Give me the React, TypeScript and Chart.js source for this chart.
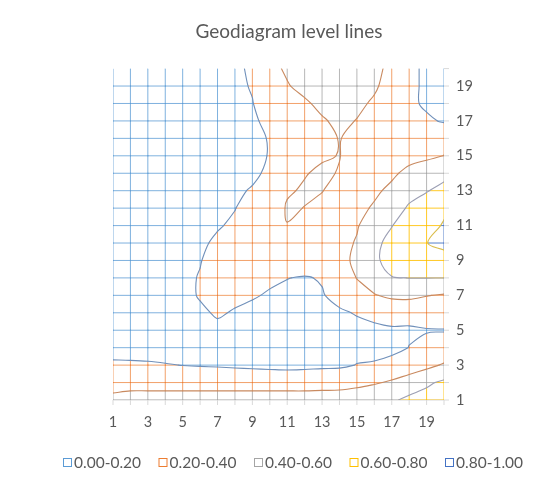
import React, { useEffect, useRef } from "react";
import { Chart, registerables } from "chart.js";

Chart.register(...registerables);

// ---------------- data ----------------
const chartTitle = "Geodiagram level lines";
const categories = [1, 2, 3, 4, 5, 6, 7, 8, 9, 10, 11, 12, 13, 14, 15, 16, 17, 18, 19, 20];
const seriesNames = [1, 2, 3, 4, 5, 6, 7, 8, 9, 10, 11, 12, 13, 14, 15, 16, 17, 18, 19, 20];
const xTickLabels = [1, 3, 5, 7, 9, 11, 13, 15, 17, 19];
const yTickLabels = [1, 3, 5, 7, 9, 11, 13, 15, 17, 19];
const levels = [0.2, 0.4, 0.6, 0.8];
const bandLabels = ["0.00-0.20", "0.20-0.40", "0.40-0.60", "0.60-0.80", "0.80-1.00"];
const bandColors = ["#5B9BD5", "#ED7D31", "#A5A5A5", "#FFC000", "#4472C4"];
const gridLineColors = [
  "rgba(91,155,213,0.78)",
  "rgba(237,125,49,0.72)",
  "rgba(165,165,165,0.8)",
  "rgba(255,192,0,0.85)",
  "rgba(68,114,196,0.9)",
];
const levelLineColors = ["#7090BA", "#C98A60", "#9C9FB4", "#DABD4C"];

// surface values: one array per series (y = 1 .. 20), values for categories x = 1 .. 20
const row01 = [0.45, 0.46, 0.46, 0.46, 0.46, 0.46, 0.46, 0.46, 0.46, 0.46, 0.46, 0.46, 0.47, 0.48, 0.5, 0.54, 0.58, 0.63, 0.67, 0.7];
const row02 = [0.325, 0.345, 0.345, 0.345, 0.345, 0.345, 0.345, 0.345, 0.345, 0.345, 0.345, 0.345, 0.343, 0.34, 0.357, 0.383, 0.42, 0.52, 0.57, 0.632];
const row03 = [0.23, 0.23, 0.225, 0.21, 0.197, 0.189, 0.182, 0.172, 0.161, 0.152, 0.144, 0.152, 0.164, 0.171, 0.205, 0.225, 0.287, 0.26, 0.349, 0.421];
const row04 = [0.13, 0.12, 0.11, 0.12, 0.15, 0.15, 0.15, 0.14, 0.13, 0.12, 0.12, 0.12, 0.13, 0.14, 0.15, 0.12, 0.129, 0.205, 0.249, 0.245];
const row05 = [0.1, 0.1, 0.1, 0.11, 0.13, 0.15, 0.16, 0.15, 0.13, 0.11, 0.1, 0.1, 0.11, 0.13, 0.16, 0.17, 0.18, 0.17, 0.19, 0.195];
const row06 = [0.1, 0.1, 0.1, 0.11, 0.13, 0.17, 0.22, 0.185, 0.15, 0.13, 0.12, 0.12, 0.14, 0.18, 0.21, 0.24, 0.27, 0.29, 0.29, 0.27];
const row07 = [0.1, 0.1, 0.11, 0.13, 0.15, 0.214, 0.25, 0.24, 0.218, 0.18, 0.17, 0.17, 0.19, 0.247, 0.33, 0.39, 0.433, 0.433, 0.406, 0.385];
const row08 = [0.1, 0.1, 0.11, 0.13, 0.15, 0.213, 0.26, 0.27, 0.25, 0.234, 0.203, 0.19, 0.21, 0.3, 0.405, 0.49, 0.59, 0.602, 0.602, 0.602];
const row09 = [0.1, 0.1, 0.11, 0.13, 0.15, 0.19, 0.29, 0.31, 0.31, 0.3, 0.29, 0.29, 0.3, 0.34, 0.44, 0.55, 0.7, 0.72, 0.74, 0.76];
const row10 = [0.1, 0.1, 0.1, 0.12, 0.14, 0.17, 0.23, 0.28, 0.31, 0.32, 0.33, 0.32, 0.32, 0.36, 0.41, 0.56, 0.65, 0.72, 0.798, 0.827];
const row11 = [0.1, 0.1, 0.1, 0.11, 0.13, 0.16, 0.185, 0.228, 0.28, 0.35, 0.395, 0.37, 0.35, 0.35, 0.39, 0.47, 0.595, 0.68, 0.76, 0.81];
const row12 = [0.08, 0.08, 0.09, 0.1, 0.11, 0.13, 0.16, 0.195, 0.28, 0.266, 0.42, 0.397, 0.36, 0.33, 0.37, 0.413, 0.54, 0.616, 0.68, 0.779];
const row13 = [0.07, 0.07, 0.08, 0.09, 0.1, 0.12, 0.15, 0.17, 0.215, 0.3, 0.38, 0.42, 0.405, 0.34, 0.34, 0.38, 0.425, 0.557, 0.591, 0.651];
const row14 = [0.06, 0.06, 0.07, 0.08, 0.09, 0.11, 0.13, 0.15, 0.165, 0.235, 0.33, 0.39, 0.43, 0.39, 0.35, 0.36, 0.38, 0.43, 0.49, 0.549];
const row15 = [0.05, 0.05, 0.06, 0.07, 0.08, 0.1, 0.12, 0.15, 0.175, 0.205, 0.28, 0.33, 0.38, 0.405, 0.32, 0.33, 0.33, 0.363, 0.37, 0.402];
const row16 = [0.05, 0.05, 0.06, 0.07, 0.08, 0.1, 0.12, 0.15, 0.18, 0.205, 0.27, 0.32, 0.36, 0.405, 0.36, 0.33, 0.31, 0.3, 0.3, 0.36];
const row17 = [0.05, 0.05, 0.06, 0.07, 0.08, 0.1, 0.13, 0.16, 0.185, 0.225, 0.29, 0.34, 0.385, 0.43, 0.395, 0.34, 0.3, 0.27, 0.23, 0.182];
const row18 = [0.05, 0.05, 0.06, 0.07, 0.08, 0.1, 0.13, 0.16, 0.195, 0.28, 0.33, 0.38, 0.435, 0.46, 0.43, 0.38, 0.33, 0.24, 0.17, 0.12];
const row19 = [0.05, 0.05, 0.06, 0.07, 0.08, 0.1, 0.13, 0.17, 0.21, 0.3, 0.39, 0.44, 0.49, 0.5, 0.48, 0.42, 0.34, 0.24, 0.17, 0.12];
const row20 = [0.05, 0.05, 0.06, 0.07, 0.08, 0.1, 0.13, 0.17, 0.225, 0.36, 0.42, 0.47, 0.5, 0.5, 0.48, 0.44, 0.36, 0.24, 0.17, 0.12];

const surface = [row01, row02, row03, row04, row05, row06, row07, row08, row09, row10,
  row11, row12, row13, row14, row15, row16, row17, row18, row19, row20];

const FONT = "Lato, 'Open Sans', 'DejaVu Sans', sans-serif";
const TEXT_COLOR = "#595959";

// ---------------- geometry from data ----------------
type Pt = { x: number; y: number };
const gap = (): Pt => ({ x: NaN, y: NaN });
const bandOf = (v: number) => levels.filter((L) => v >= L).length;

function splitSegment(out: Pt[][], x0: number, y0: number, x1: number, y1: number, a: number, b: number) {
  const ts = [0, 1];
  levels.forEach((L) => {
    if ((a >= L) !== (b >= L)) ts.push((L - a) / (b - a));
  });
  ts.sort((p, q) => p - q);
  for (let k = 0; k < ts.length - 1; k++) {
    const t0 = ts[k];
    const t1 = ts[k + 1];
    if (t1 - t0 < 1e-9) continue;
    const v = a + ((b - a) * (t0 + t1)) / 2;
    out[bandOf(v)].push(
      { x: x0 + (x1 - x0) * t0, y: y0 + (y1 - y0) * t0 },
      { x: x0 + (x1 - x0) * t1, y: y0 + (y1 - y0) * t1 },
      gap()
    );
  }
}

function buildGrid(): Pt[][] {
  const out: Pt[][] = bandColors.map(() => []);
  const nR = seriesNames.length;
  const nC = categories.length;
  // horizontal lines (the top series row shows no line in the reference)
  for (let j = 0; j < nR - 1; j++) {
    for (let i = 0; i < nC - 1; i++) {
      splitSegment(out, categories[i], seriesNames[j], categories[i + 1], seriesNames[j], surface[j][i], surface[j][i + 1]);
    }
  }
  // vertical lines
  for (let i = 0; i < nC; i++) {
    for (let j = 0; j < nR - 1; j++) {
      splitSegment(out, categories[i], seriesNames[j], categories[i], seriesNames[j + 1], surface[j][i], surface[j + 1][i]);
    }
  }
  return out;
}

function contourSegments(L: number): [Pt, Pt][] {
  const segs: [Pt, Pt][] = [];
  const up = (v: number) => v >= L;
  const cross = (xa: number, ya: number, za: number, xb: number, yb: number, zb: number): Pt | null => {
    if (up(za) === up(zb)) return null;
    const t = (L - za) / (zb - za);
    return { x: xa + (xb - xa) * t, y: ya + (yb - ya) * t };
  };
  for (let j = 0; j < seriesNames.length - 1; j++) {
    for (let i = 0; i < categories.length - 1; i++) {
      const x0 = categories[i], x1 = categories[i + 1];
      const y0 = seriesNames[j], y1 = seriesNames[j + 1];
      const z00 = surface[j][i], z10 = surface[j][i + 1];
      const z01 = surface[j + 1][i], z11 = surface[j + 1][i + 1];
      const bottom = cross(x0, y0, z00, x1, y0, z10);
      const right = cross(x1, y0, z10, x1, y1, z11);
      const top = cross(x0, y1, z01, x1, y1, z11);
      const left = cross(x0, y0, z00, x0, y1, z01);
      const hits = [bottom, right, top, left].filter((p) => p !== null) as Pt[];
      if (hits.length === 2) {
        segs.push([hits[0], hits[1]]);
      } else if (hits.length === 4) {
        const c = (z00 + z10 + z01 + z11) / 4;
        if (up(z00) !== up(c)) {
          segs.push([bottom!, left!], [right!, top!]);
        } else {
          segs.push([bottom!, right!], [top!, left!]);
        }
      }
    }
  }
  return segs;
}

// join the cell segments of one level into continuous polylines
function chainSegments(segs: [Pt, Pt][]): Pt[] {
  const key = (p: Pt) => `${Math.round(p.x * 1e6)},${Math.round(p.y * 1e6)}`;
  const map = new Map<string, number[]>();
  segs.forEach((s, idx) => {
    s.forEach((p) => {
      const k = key(p);
      if (!map.has(k)) map.set(k, []);
      map.get(k)!.push(idx);
    });
  });
  const used = segs.map(() => false);
  const out: Pt[] = [];
  const walk = (startIdx: number, startPt: Pt) => {
    const chain: Pt[] = [{ ...startPt }];
    let idx = startIdx;
    let cur = startPt;
    while (idx >= 0 && !used[idx]) {
      used[idx] = true;
      const s = segs[idx];
      const next = key(s[0]) === key(cur) ? s[1] : s[0];
      chain.push({ ...next });
      cur = next;
      const cand = (map.get(key(cur)) || []).filter((j) => !used[j]);
      idx = cand.length ? cand[0] : -1;
    }
    out.push(...chain, gap());
  };
  segs.forEach((s, idx) => {
    if (used[idx]) return;
    for (const p of s) {
      if ((map.get(key(p)) || []).length === 1) {
        walk(idx, p);
        return;
      }
    }
  });
  segs.forEach((s, idx) => {
    if (!used[idx]) walk(idx, s[0]);
  });
  return out;
}

// ---------------- decorations (axis ticks, title, legend) ----------------
const decorPlugin = {
  id: "decor",
  beforeDatasetsDraw(chart: any) {
    const { ctx } = chart;
    const xs = chart.scales.x;
    const ys = chart.scales.y;
    const yb = ys.getPixelForValue(seriesNames[0]);
    const xl = xs.getPixelForValue(categories[0]);
    const xr = xs.getPixelForValue(categories[categories.length - 1]);
    ctx.save();
    ctx.strokeStyle = "#D9D9D9";
    ctx.lineWidth = 1;
    ctx.beginPath();
    ctx.moveTo(xl, yb);
    ctx.lineTo(xr, yb);
    categories.forEach((c) => {
      const px = xs.getPixelForValue(c);
      ctx.moveTo(px, yb);
      ctx.lineTo(px, yb + 5);
    });
    seriesNames.forEach((s) => {
      const py = ys.getPixelForValue(s);
      ctx.moveTo(xr, py);
      ctx.lineTo(xr + 5, py);
    });
    ctx.stroke();
    ctx.restore();
  },
  afterDraw(chart: any) {
    const { ctx } = chart;
    ctx.save();
    // title
    ctx.fillStyle = TEXT_COLOR;
    ctx.font = `19px ${FONT}`;
    ctx.textAlign = "center";
    ctx.textBaseline = "middle";
    ctx.fillText(chartTitle, 289, 32);
    // legend
    ctx.font = `15.5px ${FONT}`;
    ctx.textAlign = "left";
    const box = 8;
    const startX = 63;
    const pitch = 95.5;
    const yc = 462;
    bandLabels.forEach((t, k) => {
      const x = startX + pitch * k;
      ctx.fillStyle = "#FFFFFF";
      ctx.fillRect(x + 0.5, yc - box / 2 + 0.5, box, box);
      ctx.strokeStyle = bandColors[k];
      ctx.lineWidth = 1;
      ctx.strokeRect(x + 0.5, yc - box / 2 + 0.5, box, box);
      ctx.fillStyle = TEXT_COLOR;
      ctx.fillText(t, x + box + 3, yc + 1);
    });
    ctx.restore();
  },
};

export default function App() {
  const canvasRef = useRef<HTMLCanvasElement | null>(null);

  useEffect(() => {
    if (!canvasRef.current) return;
    const grid = buildGrid();
    const contourSets = levels.map((L, k) => ({
      label: `level ${L}`,
      data: chainSegments(contourSegments(L)),
      borderColor: levelLineColors[k],
      borderWidth: 1.1,
      tension: 0.35,
      pointRadius: 0,
      fill: false,
      spanGaps: false,
      order: 0,
    }));
    const gridSets = bandLabels.map((lbl, k) => ({
      label: lbl,
      data: grid[k],
      borderColor: gridLineColors[k],
      borderWidth: 1,
      tension: 0,
      pointRadius: 0,
      fill: false,
      spanGaps: false,
      order: 1,
    }));

    const chart = new Chart(canvasRef.current, {
      type: "line",
      data: { datasets: [...contourSets, ...gridSets] as any },
      options: {
        animation: false,
        responsive: false,
        devicePixelRatio: 1,
        layout: { padding: { left: 113, right: 70, top: 68.6, bottom: 42 } },
        elements: { line: { borderCapStyle: "round", borderJoinStyle: "round" }, point: { radius: 0 } },
        plugins: {
          legend: { display: false },
          title: { display: false },
          tooltip: { enabled: false },
        },
        events: [],
        scales: {
          x: {
            type: "linear",
            position: "bottom",
            min: categories[0],
            max: categories[categories.length - 1],
            grid: { display: false, drawTicks: false },
            border: { display: false },
            afterBuildTicks: (s: any) => {
              s.ticks = xTickLabels.map((v) => ({ value: v }));
            },
            afterFit: (s: any) => {
              s.height = 40;
            },
            ticks: {
              autoSkip: false,
              maxRotation: 0,
              padding: 14,
              color: TEXT_COLOR,
              font: { family: FONT, size: 14.5 },
            },
          },
          y: {
            type: "linear",
            position: "right",
            min: seriesNames[0],
            max: seriesNames[seriesNames.length - 1],
            grid: { display: false, drawTicks: false },
            border: { display: false },
            afterBuildTicks: (s: any) => {
              s.ticks = yTickLabels.map((v) => ({ value: v }));
            },
            afterFit: (s: any) => {
              s.width = 40;
            },
            ticks: {
              autoSkip: false,
              padding: 12,
              color: TEXT_COLOR,
              font: { family: FONT, size: 14.5 },
            },
          },
        },
      } as any,
      plugins: [decorPlugin],
    });
    return () => chart.destroy();
  }, []);

  return (
    <div style={{ position: "fixed", left: 0, top: 0, width: 554, height: 482, background: "#FFFFFF" }}>
      <canvas ref={canvasRef} width={554} height={482} style={{ display: "block" }} />
    </div>
  );
}
